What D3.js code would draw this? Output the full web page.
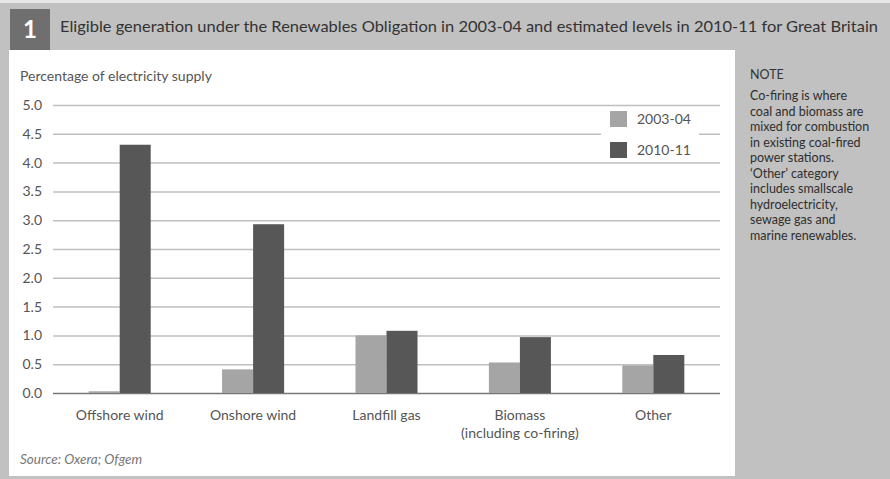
<!DOCTYPE html>
<html>
<head>
<meta charset="utf-8">
<script src="https://cdn.jsdelivr.net/npm/d3@7"></script>
<style>
  body { margin: 0; background: #c1c1c1; }
  text { font-family: Lato, "Open Sans", sans-serif; }
</style>
</head>
<body>
<div id="chart"></div>
<script>
// chart data
const categories = ["Offshore wind", "Onshore wind", "Landfill gas", "Biomass|(including co-firing)", "Other"];
const seriesNames = ["2003-04", "2010-11"];
const values2003 = [0.03, 0.41, 1.0, 0.53, 0.48];
const values2010 = [4.31, 2.93, 1.08, 0.97, 0.66];
const yTicks = [0, 0.5, 1, 1.5, 2, 2.5, 3, 3.5, 4, 4.5, 5];
const noteLines = ["Co-firing is where", "coal and biomass are", "mixed for combustion",
    "in existing coal-fired", "power stations.", "\u2018Other\u2019 category",
    "includes smallscale", "hydroelectricity,", "sewage gas and", "marine renewables."];

const W = 890, H = 479;
const colors = ["#a5a5a5", "#575757"];

const svg = d3.select("#chart").append("svg")
    .attr("width", W)
    .attr("height", H);

svg.append("rect").attr("width", W).attr("height", H).attr("fill", "#c1c1c1");
svg.append("rect").attr("width", W).attr("height", 3).attr("fill", "#e6e6e6");

// title block
svg.append("rect").attr("x", 10).attr("y", 9).attr("width", 40).attr("height", 41).attr("fill", "#6f6f6f");
svg.append("text").attr("x", 30).attr("y", 38).attr("text-anchor", "middle")
    .attr("fill", "#fff").style("font-size", "24px").style("font-weight", "bold").text("1");
svg.append("text").attr("x", 60).attr("y", 32)
    .attr("fill", "#333").style("font-size", "16px")
    .attr("textLength", 818).attr("lengthAdjust", "spacingAndGlyphs")
    .text("Eligible generation under the Renewables Obligation in 2003-04 and estimated levels in 2010-11 for Great Britain");

// white panel
svg.append("rect").attr("x", 9).attr("y", 50).attr("width", 726).attr("height", 426).attr("fill", "#fff");

const margin = { left: 53, right: 170, top: 105, bottom: 86 };
const x = d3.scaleBand()
    .domain(categories)
    .range([margin.left, W - margin.right])
    .paddingInner(0.535)
    .paddingOuter(0.2675);
const xs = d3.scaleBand()
    .domain(seriesNames)
    .range([0, x.bandwidth()]);
const y = d3.scaleLinear()
    .domain([0, 5])
    .range([H - margin.bottom, margin.top]);

// gridlines
const grid = svg.append("g")
    .attr("transform", `translate(${margin.left},0)`)
    .call(d3.axisLeft(y).tickValues(yTicks).tickSize(-(W - margin.right - margin.left)).tickFormat(""));
grid.select(".domain").remove();
grid.selectAll("line")
    .attr("stroke", d => d === 0 ? "#777" : "#bfbfbf")
    .attr("stroke-width", 1.5);

// tick labels
svg.append("g").selectAll("text")
    .data(yTicks)
    .join("text")
    .attr("x", 42)
    .attr("y", d => y(d) + 5)
    .attr("text-anchor", "end")
    .attr("fill", "#555")
    .style("font-size", "14px")
    .text(d => d.toFixed(1));

svg.append("text").attr("x", 20).attr("y", 81)
    .attr("fill", "#555").style("font-size", "14px")
    .text("Percentage of electricity supply");

// bars
const groups = svg.append("g").selectAll("g")
    .data(categories)
    .join("g")
    .attr("transform", d => `translate(${x(d)},0)`);

groups.selectAll("rect")
    .data((d, i) => [values2003[i], values2010[i]].map((v, j) => ({ key: seriesNames[j], value: v, j })))
    .join("rect")
    .attr("x", d => xs(d.key))
    .attr("y", d => y(d.value))
    .attr("width", xs.bandwidth())
    .attr("height", d => y(0) - y(d.value))
    .attr("fill", d => colors[d.j]);

// category labels
svg.append("g").selectAll("text")
    .data(categories)
    .join("text")
    .attr("x", d => x(d) + x.bandwidth() / 2)
    .attr("y", 420)
    .attr("text-anchor", "middle")
    .attr("fill", "#555")
    .style("font-size", "14px")
    .each(function(d) {
        const parts = d.split("|");
        d3.select(this).selectAll("tspan")
            .data(parts)
            .join("tspan")
            .attr("x", x(d) + x.bandwidth() / 2)
            .attr("dy", (p, k) => k === 0 ? 0 : 18)
            .text(p => p);
    });

// legend
const legend = svg.append("g");
legend.append("rect").attr("x", 601).attr("y", 108).attr("width", 98).attr("height", 52).attr("fill", "#fff");
seriesNames.forEach((s, i) => {
    legend.append("rect").attr("x", 610).attr("y", 111 + i * 31).attr("width", 17).attr("height", 16).attr("fill", colors[i]);
    legend.append("text").attr("x", 637).attr("y", 124 + i * 31)
        .attr("fill", "#555").style("font-size", "14px").text(s);
});

// source
svg.append("text").attr("x", 20).attr("y", 464)
    .attr("fill", "#777").style("font-size", "13.5px").style("font-style", "italic")
    .text("Source: Oxera; Ofgem");

// note
svg.append("text").attr("x", 750).attr("y", 79)
    .attr("fill", "#333").style("font-size", "12.5px").text("NOTE");
svg.append("g").selectAll("text")
    .data(noteLines)
    .join("text")
    .attr("x", 750)
    .attr("y", (d, i) => 100 + i * 15.5)
    .attr("fill", "#2e2e2e")
    .style("font-size", "12.5px")
    .text(d => d);
</script>
</body>
</html>
